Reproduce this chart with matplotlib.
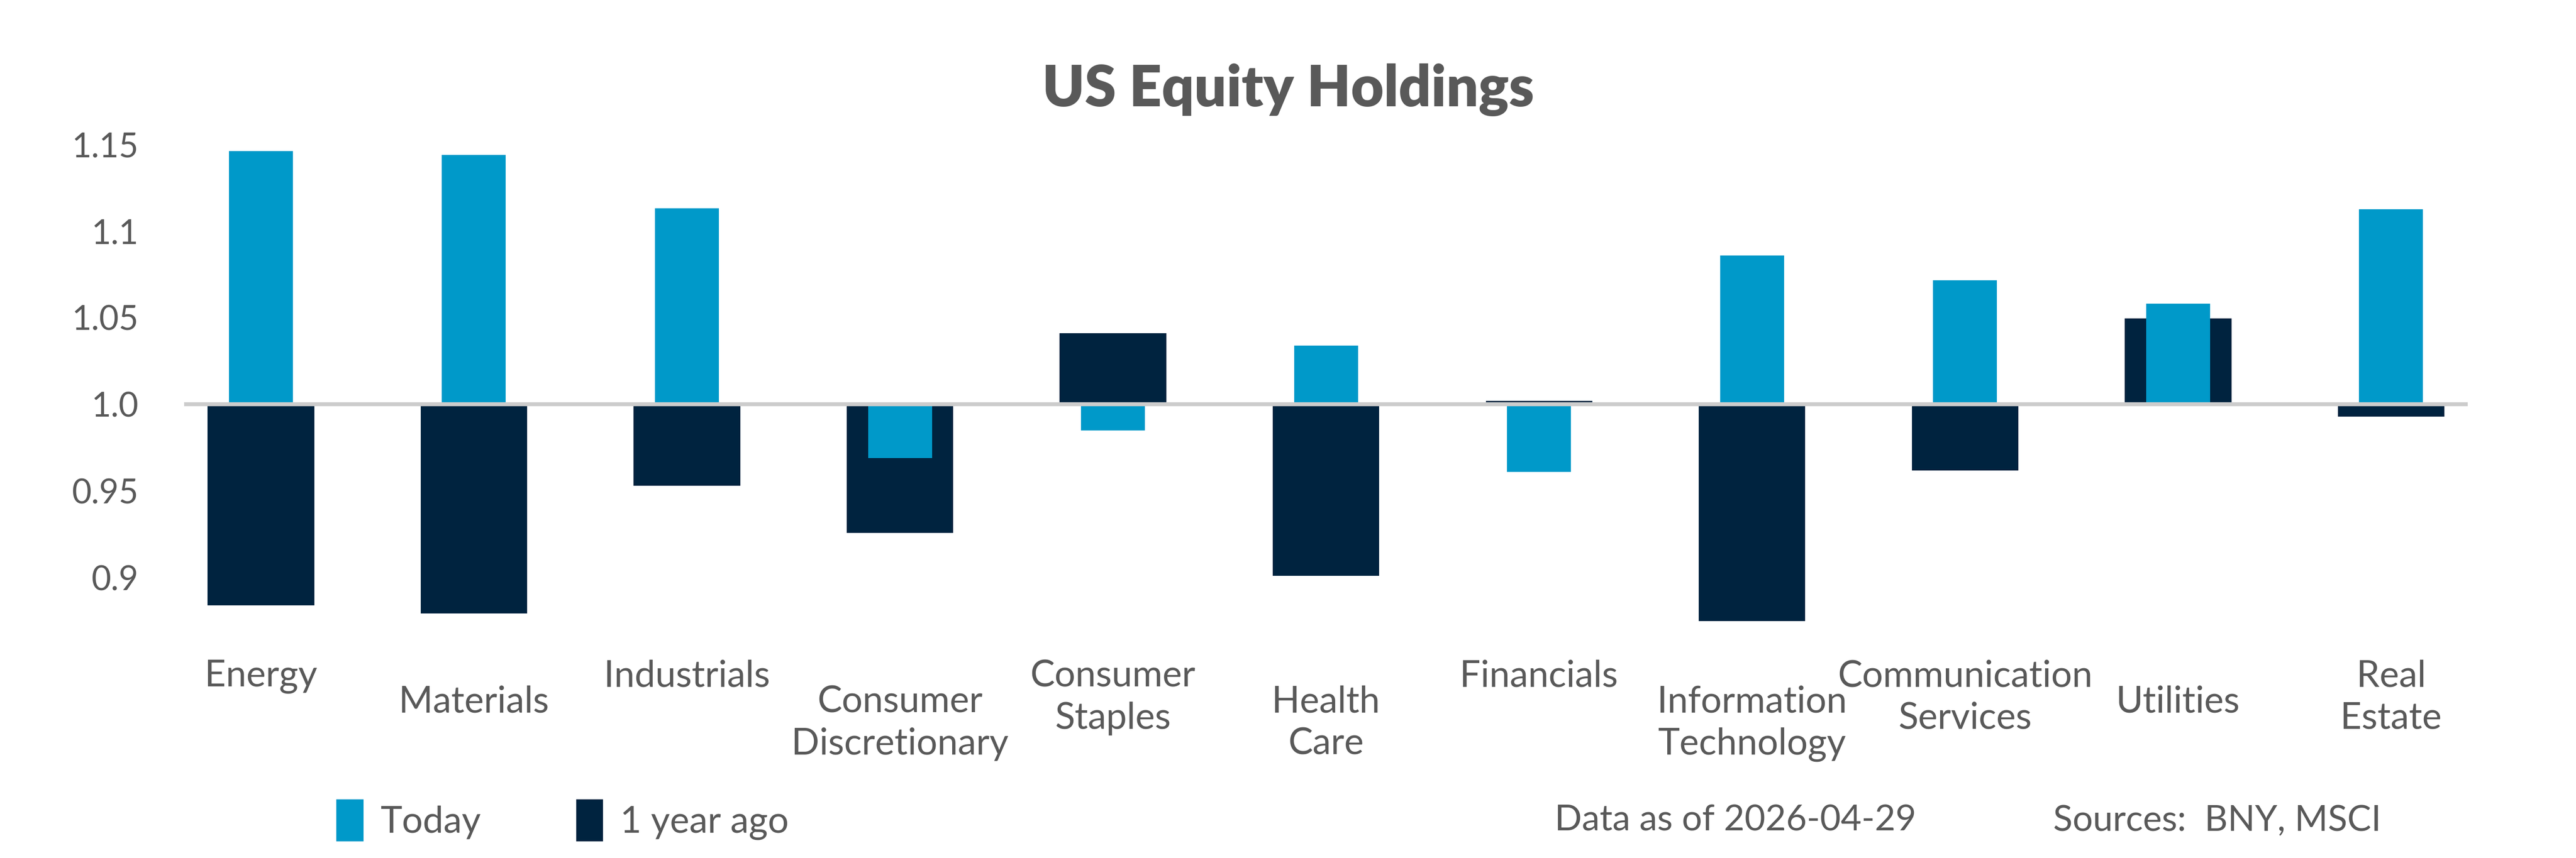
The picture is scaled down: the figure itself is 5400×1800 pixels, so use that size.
#! /usr/bin/env python3

import numpy as np
import matplotlib
matplotlib.use('Agg')
from matplotlib import pyplot as plt
from matplotlib.patches import Patch

plt.rcParams['font.family'] = ['Lato', 'DejaVu Sans']

sectors = ['Energy', 'Materials', 'Industrials', 'Consumer\nDiscretionary',
           'Consumer\nStaples', 'Health\nCare', 'Financials',
           'Information\nTechnology', 'Communication\nServices', 'Utilities',
           'Real\nEstate']
today = [1.146, 1.144, 1.113, 0.969, 0.985, 1.034, 0.961, 1.086, 1.0715, 1.058, 1.1125]
year_ago = [0.884, 0.8795, 0.953, 0.926, 1.041, 0.901, 1.002, 0.875, 0.962, 1.0497, 0.993]
yticks = [0.9, 0.95, 1.0, 1.05, 1.1, 1.15]
ytick_labels = ['0.9', '0.95', '1.0', '1.05', '1.1', '1.15']

c_today = '#0099c9'
c_year = '#00233f'
c_text = '#595959'
fs = 17

fig = plt.figure(figsize=(18, 6), dpi=300)
ax = fig.add_axes([0.0715, 0.266, 0.8865, 0.586])

x = np.arange(len(sectors))
base = 1.0
ax.bar(x, np.array(year_ago) - base, 0.5, bottom=base, color=c_year, zorder=2)
ax.bar(x, np.array(today) - base, 0.3, bottom=base, color=c_today, zorder=3)
ax.axhline(base, color='#cccccc', lw=2.0, zorder=4)

ax.set_xlim(-0.36, len(sectors) - 1 + 0.36)
ax.set_ylim(0.87, 1.16)
ax.set_yticks(yticks)
ax.set_yticklabels(ytick_labels, fontsize=fs, color=c_text)
ax.set_xticks(x)
ax.set_xticklabels(sectors, fontsize=18.5, color=c_text, linespacing=1.3)
ax.tick_params(axis='both', length=0)
ax.tick_params(axis='y', pad=23)
for i, t in enumerate(ax.xaxis.get_major_ticks()):
    t.set_pad(15 if i % 2 == 0 else 28)
for s in ax.spines.values():
    s.set_visible(False)

fig.text(0.5, 0.895, 'US Equity Holdings', ha='center', va='center',
         fontsize=28.5, fontweight='heavy', color=c_text)

handles = [Patch(color=c_today, label='Today'), Patch(color=c_year, label='1 year ago')]
leg = fig.legend(handles=handles, loc='center left', bbox_to_anchor=(0.131, 0.044),
                 ncol=2, frameon=False, fontsize=18.5, handlelength=0.68,
                 handleheight=1.3, handletextpad=0.5, columnspacing=2.6,
                 borderpad=0, borderaxespad=0)
for t in leg.get_texts():
    t.set_color(c_text)

fig.text(0.6035, 0.044, 'Data as of 2026-04-29', ha='left', va='center',
         fontsize=18, color=c_text)
fig.text(0.797, 0.044, 'Sources:  BNY, MSCI', ha='left', va='center',
         fontsize=18, color=c_text)

fig.savefig('out.png', dpi=300, facecolor='white')
